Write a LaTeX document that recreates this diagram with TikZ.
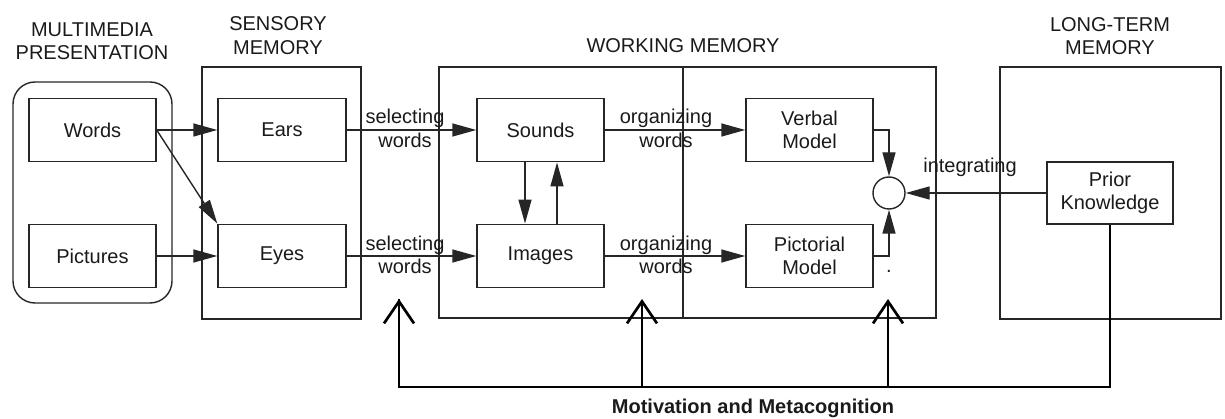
\documentclass[tikz,border=0pt]{standalone}
\usepackage{fontspec}
\setmainfont{Liberation Sans}
\usetikzlibrary{arrows.meta}
\definecolor{linec}{HTML}{262626}
\definecolor{textc}{HTML}{1A1A1A}
\begin{document}
\begin{tikzpicture}[x=1pt,y=-1pt,
  font=\fontsize{20}{23.5}\selectfont, text=textc,
  thin line/.style={draw=linec, line width=1.4pt},
  box/.style={thin line, rectangle, minimum width=127pt, minimum height=63.5pt, align=center, inner sep=0pt},
  container/.style={thin line},
  lbl/.style={align=center, inner sep=0pt},
  arr/.style={thin line, -{Triangle[length=24pt,width=13pt]}},
  mot/.style={draw=black, line width=2.7pt},
  motarr/.style={mot, -{Straight Barb[length=22pt,width=30pt]}}
]
\useasboundingbox (0,0) rectangle (1225,419);

% containers
\draw[container, rounded corners=22pt] (13,82) rectangle (172,303);
\draw[container] (202,67) rectangle (361,319);
\draw[container] (439,67) rectangle (936,318);
\draw[container] (683,67) -- (683,318);
\draw[container] (1000,67) rectangle (1221,319);

% titles
\node[lbl] (tmm) at (92,41) {MULTIMEDIA\\PRESENTATION};
\node[lbl] (tsm) at (278,35.5) {SENSORY\\MEMORY};
\node[lbl] (twm) at (683,46) {WORKING MEMORY};
\node[lbl] (tltm) at (1110,36) {LONG-TERM\\MEMORY};

% boxes
\node[box] (words) at (92.5,130) {Words};
\node[box] (pictures) at (92.5,256) {Pictures};
\node[box, minimum width=128pt] (ears) at (282,130) {Ears};
\node[box, minimum width=128pt] (eyes) at (282,256) {Eyes};
\node[box] (sounds) at (540.5,130) {Sounds};
\node[box] (images) at (540.5,256) {Images};
\node[box] (verbal) at (809.5,130) {Verbal\\Model};
\node[box] (pictorial) at (809.5,256) {Pictorial\\Model};
\node[box, minimum width=126pt, minimum height=62pt] (prior) at (1110,193) {Prior\\Knowledge};
\node[thin line, circle, minimum size=32pt, inner sep=0pt] (circ) at (889,193) {};

% connectors
\draw[arr] (words.east) -- (ears.west);
\draw[arr] (words.east) -- (eyes.north west);
\draw[arr] (pictures.east) -- (eyes.west);
\draw[arr] (ears.east) -- (sounds.west);
\draw[arr] (eyes.east) -- (images.west);
\draw[arr] (sounds.east) -- (verbal.west);
\draw[arr] (images.east) -- (pictorial.west);
\draw[arr] ([xshift=-15.5pt]sounds.south) -- ([xshift=-15.5pt]images.north);
\draw[arr] ([xshift=16.5pt]images.north) -- ([xshift=16.5pt]sounds.south);
\draw[arr] (verbal.east) -| (circ.north);
\draw[arr] (pictorial.east) -| (circ.south);
\draw[arr] (prior.west) -- (circ.east);

% connector labels
\node[lbl] (sel1) at (405,128.5) {selecting\\words};
\node[lbl] (sel2) at (405,255) {selecting\\words};
\node[lbl] (org1) at (666,128.5) {organizing\\words};
\node[lbl] (org2) at (666,255) {organizing\\words};
\node[lbl] (integ) at (970,167) {integrating};
\node[lbl] (dot) at (889,271) {.};

% motivation and metacognition
\coordinate (m1) at (399,387);
\coordinate (m2) at (642,387);
\coordinate (m3) at (888,387);
\coordinate (t1) at (399,299);
\coordinate (t2) at (642,299);
\coordinate (t3) at (888,299);
\draw[mot, line join=miter] (t1) -- (m1) -| (prior.south);
\draw[motarr] (m1) -- (t1);
\draw[motarr] (m2) -- (t2);
\draw[motarr] (m3) -- (t3);
\node[lbl, font=\fontsize{20}{24}\bfseries] (motiv) at (753,408) {Motivation and Metacognition};
\end{tikzpicture}
\end{document}
